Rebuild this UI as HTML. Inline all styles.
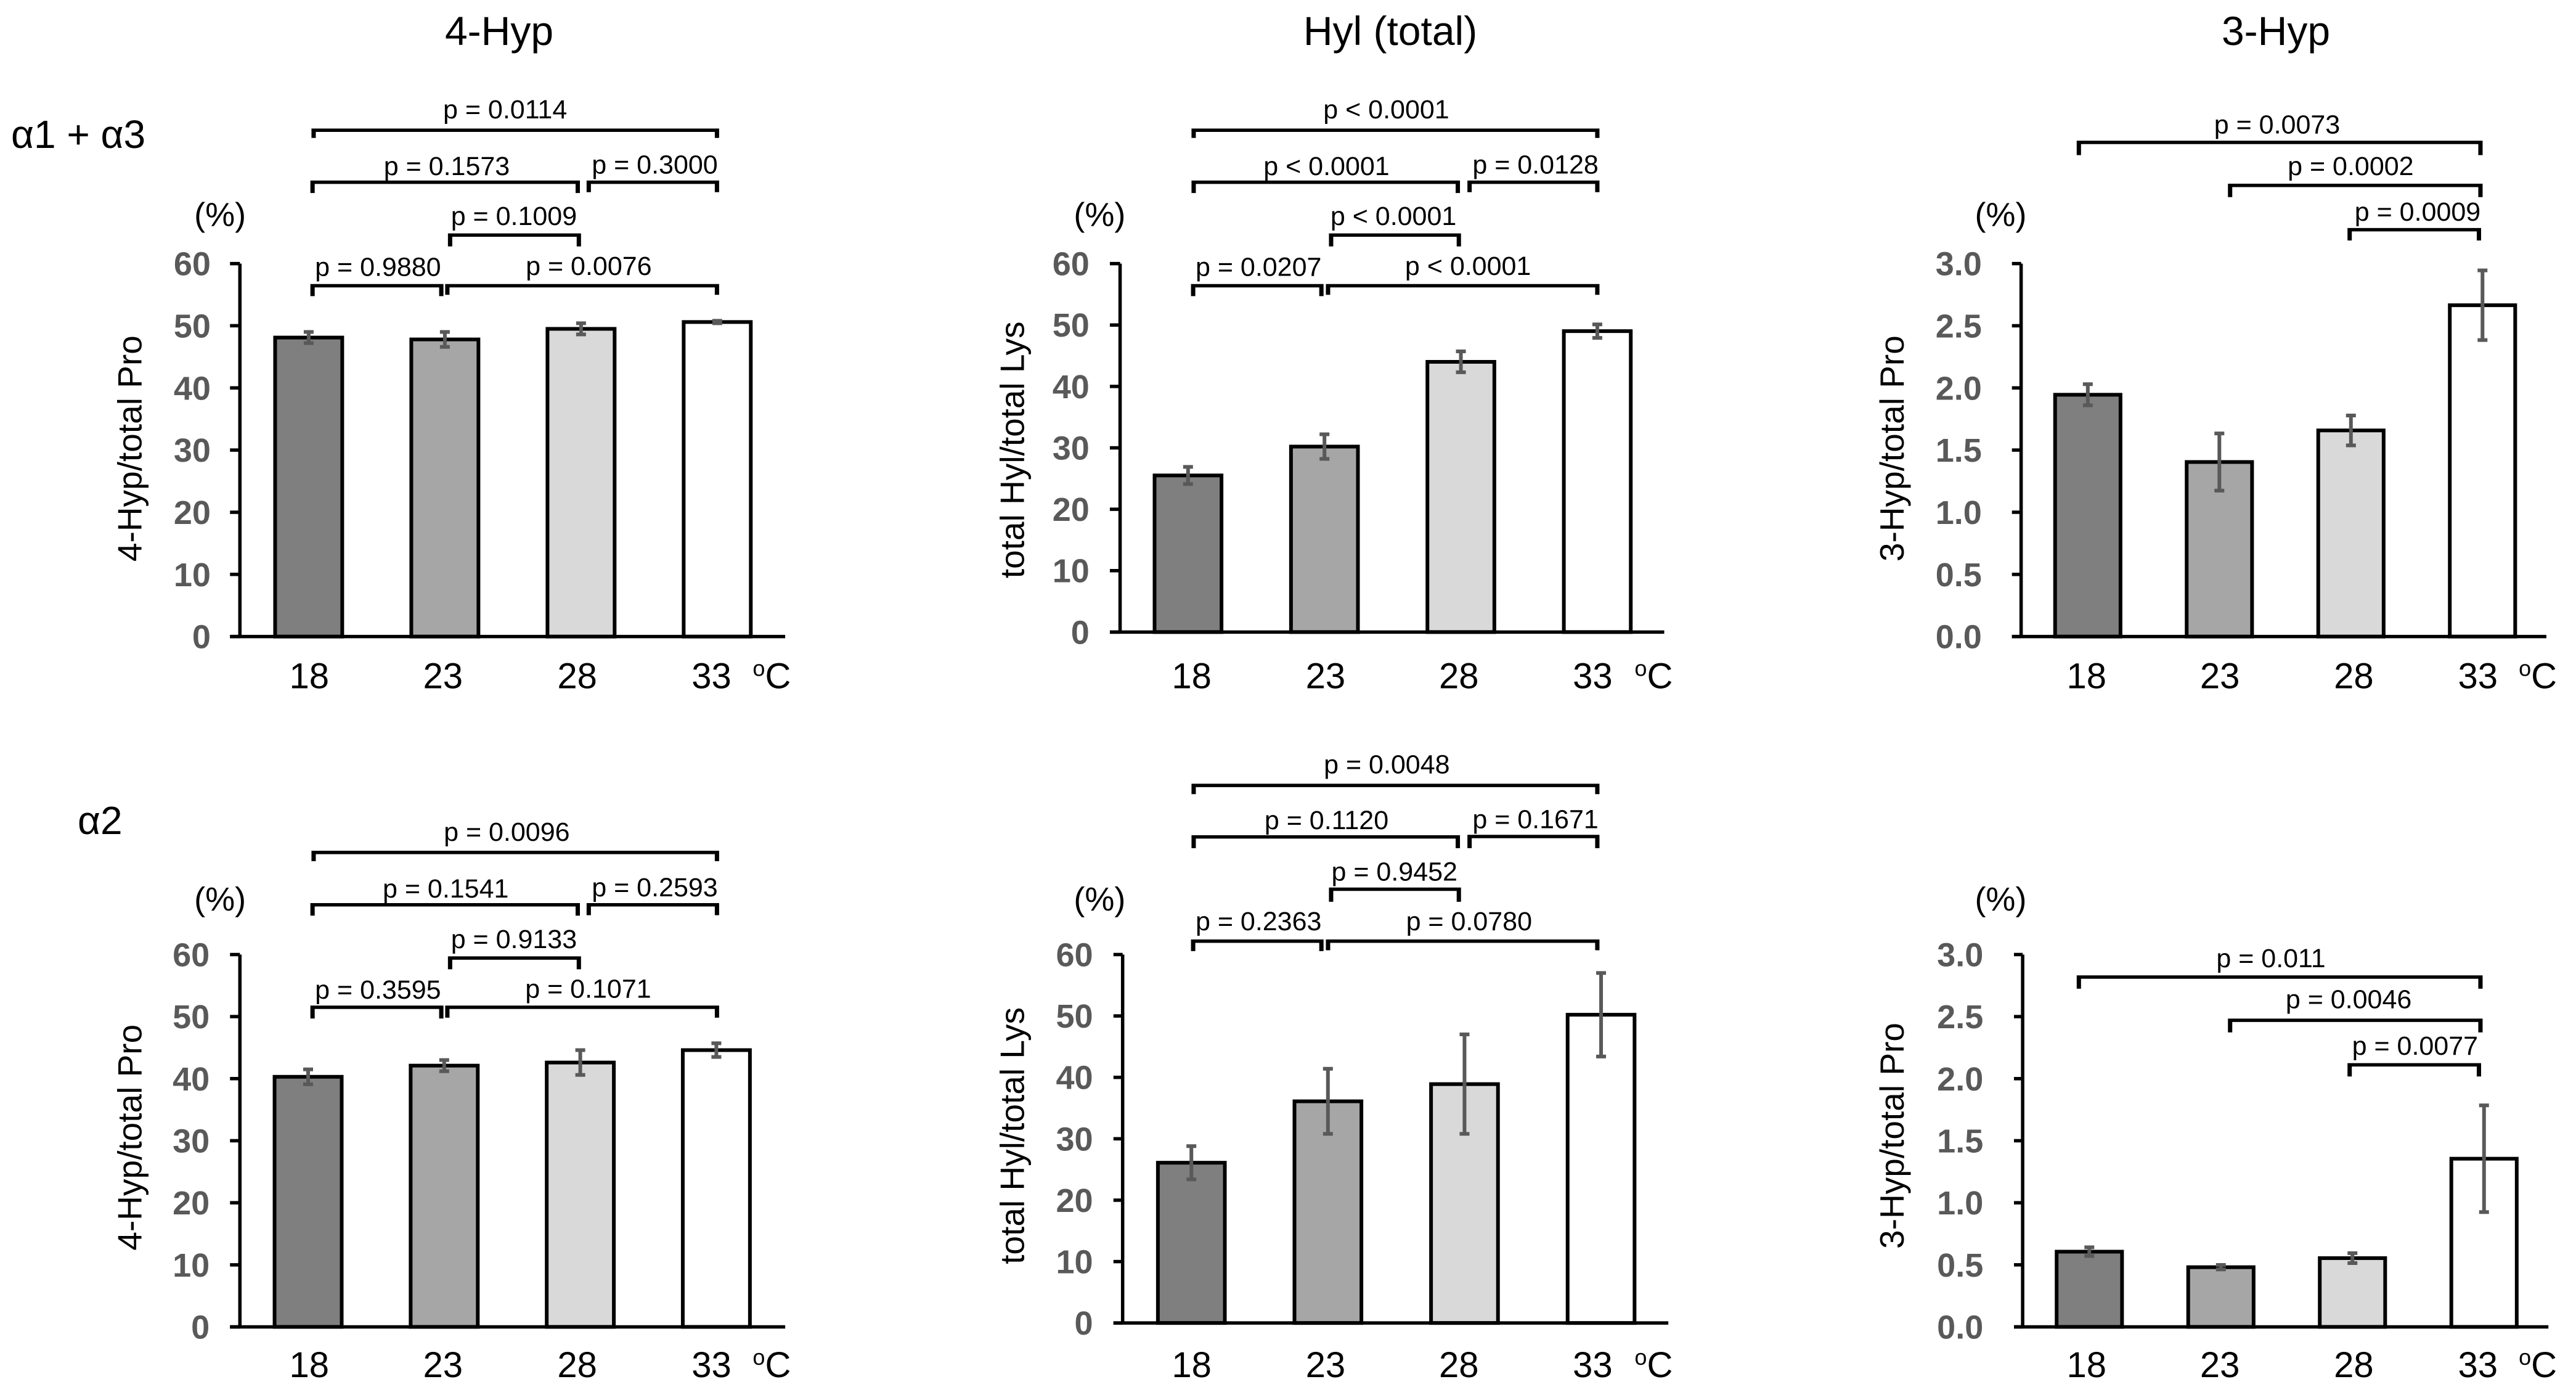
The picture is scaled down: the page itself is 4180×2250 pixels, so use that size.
<!DOCTYPE html>
<html lang="en">
<head>
<meta charset="utf-8">
<title>Hydroxylation by temperature</title>
<style>
html,body{margin:0;padding:0;background:#fff;width:4180px;height:2250px;overflow:hidden}
svg{display:block}
text{font-family:"Liberation Sans",sans-serif;fill:#000}
</style>
</head>
<body>
<svg id="fig" xmlns="http://www.w3.org/2000/svg" width="4180" height="2250" viewBox="0 0 4180 2250">
  <rect x="0" y="0" width="4180" height="2250" fill="#fff"/>
  <text x="810" y="73" font-size="66" text-anchor="middle">4-Hyp</text>
  <text x="2256" y="73" font-size="66" text-anchor="middle">Hyl (total)</text>
  <text x="3693" y="73" font-size="66" text-anchor="middle">3-Hyp</text>
  <text x="18" y="240" font-size="64">α1 + α3</text>
  <text x="126" y="1353" font-size="64">α2</text>
</svg>
<script>
// ---- data ----
const categories = ['18', '23', '28', '33'];
const percentTicks = ['0', '10', '20', '30', '40', '50', '60'];
const ratioTicks = ['0.0', '0.5', '1.0', '1.5', '2.0', '2.5', '3.0'];
const barColors = ['#7f7f7f', '#a6a6a6', '#d9d9d9', '#ffffff'];

const hyp4TopValues = [48.1, 47.8, 49.5, 50.6];
const hyp4TopErrors = [0.9, 1.2, 0.9, 0.2];
const hylTopValues = [25.5, 30.2, 44.0, 49.0];
const hylTopErrors = [1.4, 2.0, 1.7, 1.1];
const hyp3TopValues = [1.945, 1.404, 1.658, 2.665];
const hyp3TopErrors = [0.085, 0.23, 0.12, 0.28];

const hyp4BottomValues = [40.3, 42.1, 42.6, 44.6];
const hyp4BottomErrors = [1.2, 0.9, 2.0, 1.1];
const hylBottomValues = [26.1, 36.1, 38.9, 50.2];
const hylBottomErrors = [2.7, 5.3, 8.1, 6.8];
const hyp3BottomValues = [0.606, 0.481, 0.554, 1.355];
const hyp3BottomErrors = [0.035, 0.018, 0.04, 0.43];

// ---- layout (geometry in crop units, converted by ox/oy/sx/sy) ----
const SX_A = 1568 / 1400, SX_B = 1568 / 1300, SY_T = 1568 / 1150, SY_B = 1568 / 1100;
const panels = [
  {id: 'hyp4-top', values: hyp4TopValues, errors: hyp4TopErrors, ticks: percentTicks, ytitle: '4-Hyp/total Pro',
   ox: 0, oy: 0, sx: SX_A, sy: SY_T, axisX: 436, tickX: 418, right: 1427, yTop: 583, y0: 1408,
   first: 561, step: 247.5, barW: 122, labelX: [562, 805, 1049, 1293], unitX: 1368, labelY: 1522,
   tickRight: 383, titleX: 257, titleY: 992, pctX: 400, pctY: 500,
   brackets: [
     [570, 1303, 288, 305, 918, 262, 'p = 0.0114'],
     [568, 1050, 403, 427, 812, 387, 'p = 0.1573'],
     [1070, 1303, 403, 425, 1190, 384, 'p = 0.3000'],
     [818, 1052, 520, 545, 934, 498, 'p = 0.1009'],
     [568, 802, 632, 655, 687, 610, 'p = 0.9880'],
     [813, 1303, 632, 652, 1070, 608, 'p = 0.0076']
   ]},
  {id: 'hyl-top', values: hylTopValues, errors: hylTopErrors, ticks: percentTicks, ytitle: 'total Hyl/total Lys',
   ox: 1500, oy: 0, sx: SX_B, sy: SY_T, axisX: 383, tickX: 363, right: 1448, yTop: 583, y0: 1398,
   first: 516, step: 267, barW: 131, labelX: [523, 785, 1046, 1308], unitX: 1390, labelY: 1522,
   tickRight: 323, titleX: 195, titleY: 995, pctX: 343, pctY: 500,
   brackets: [
     [527, 1317, 288, 305, 904, 262, 'p < 0.0001'],
     [527, 1044, 403, 427, 787, 387, 'p < 0.0001'],
     [1067, 1317, 403, 425, 1196, 384, 'p = 0.0128'],
     [796, 1046, 520, 545, 918, 498, 'p < 0.0001'],
     [526, 777, 632, 655, 654, 610, 'p = 0.0207'],
     [790, 1317, 632, 652, 1064, 608, 'p < 0.0001']
   ]},
  {id: 'hyp3-top', values: hyp3TopValues, errors: hyp3TopErrors, ticks: ratioTicks, ytitle: '3-Hyp/total Pro',
   ox: 2880, oy: 0, sx: SX_B, sy: SY_T, axisX: 482, tickX: 464, right: 1510, yTop: 583, y0: 1408,
   first: 612.5, step: 257.5, barW: 128, labelX: [610, 871, 1133, 1376], unitX: 1456, labelY: 1522,
   tickRight: 405, titleX: 252, titleY: 992, pctX: 442, pctY: 500,
   brackets: [
     [595, 1381, 315, 343, 983, 295, 'p = 0.0073'],
     [891, 1381, 410, 436, 1127, 387, 'p = 0.0002'],
     [1125, 1378, 508, 532, 1258, 488, 'p = 0.0009']
   ]},
  {id: 'hyp4-bottom', values: hyp4BottomValues, errors: hyp4BottomErrors, ticks: percentTicks, ytitle: '4-Hyp/total Pro',
   ox: 0, oy: 1150, sx: SX_A, sy: SY_B, axisX: 436, tickX: 418, right: 1427, yTop: 568, y0: 1429,
   first: 560, step: 247.3, barW: 122, labelX: [562, 805, 1049, 1293], unitX: 1368, labelY: 1545,
   tickRight: 381, titleX: 257, titleY: 991, pctX: 400, pctY: 466,
   brackets: [
     [570, 1303, 332, 352, 921, 305, 'p = 0.0096'],
     [568, 1050, 453, 478, 810, 436, 'p = 0.1541'],
     [1070, 1303, 453, 477, 1190, 433, 'p = 0.2593'],
     [818, 1052, 576, 602, 934, 553, 'p = 0.9133'],
     [568, 802, 690, 716, 687, 670, 'p = 0.3595'],
     [813, 1303, 690, 714, 1069, 668, 'p = 0.1071']
   ]},
  {id: 'hyl-bottom', values: hylBottomValues, errors: hylBottomErrors, ticks: percentTicks, ytitle: 'total Hyl/total Lys',
   ox: 1500, oy: 1150, sx: SX_B, sy: SY_B, axisX: 388, tickX: 370, right: 1456, yTop: 568, y0: 1420,
   first: 522.5, step: 267.3, barW: 131, labelX: [523, 785, 1046, 1308], unitX: 1390, labelY: 1545,
   tickRight: 330, titleX: 195, titleY: 987, pctX: 343, pctY: 466,
   brackets: [
     [527, 1317, 177, 197, 905, 149, 'p = 0.0048'],
     [527, 1044, 296, 322, 787, 278, 'p = 0.1120'],
     [1067, 1317, 295, 322, 1196, 276, 'p = 0.1671'],
     [796, 1046, 417, 446, 920, 397, 'p = 0.9452'],
     [526, 777, 537, 560, 654, 512, 'p = 0.2363'],
     [790, 1317, 537, 558, 1066, 512, 'p = 0.0780']
   ]},
  {id: 'hyp3-bottom', values: hyp3BottomValues, errors: hyp3BottomErrors, ticks: ratioTicks, ytitle: '3-Hyp/total Pro',
   ox: 2880, oy: 1150, sx: SX_B, sy: SY_B, axisX: 485, tickX: 468, right: 1514, yTop: 568, y0: 1429,
   first: 615.5, step: 257.5, barW: 128, labelX: [610, 871, 1133, 1376], unitX: 1456, labelY: 1545,
   tickRight: 408, titleX: 252, titleY: 987, pctX: 442, pctY: 466,
   brackets: [
     [595, 1381, 620, 647, 971, 597, 'p = 0.011'],
     [891, 1381, 720, 748, 1123, 692, 'p = 0.0046'],
     [1125, 1378, 823, 850, 1253, 800, 'p = 0.0077']
   ]}
];

// ---- drawing ----
const NS = 'http://www.w3.org/2000/svg';
const fig = document.getElementById('fig');
function make(parent, tag, attrs, txt) {
  const n = document.createElementNS(NS, tag);
  for (const k in attrs) n.setAttribute(k, attrs[k]);
  if (txt !== undefined) n.textContent = txt;
  parent.appendChild(n);
  return n;
}

panels.forEach(function (p) {
  const px = function (c) { return p.ox + c / p.sx; };
  const py = function (c) { return p.oy + c / p.sy; };
  const yMax = parseFloat(p.ticks[p.ticks.length - 1]);
  const yScale = function (v) { return py(p.y0) - (v / yMax) * (py(p.y0) - py(p.yTop)); };
  const xScale = function (i) { return px(p.first + i * p.step); };
  const barPx = p.barW / p.sx;

  const g = make(fig, 'g', {});
  
  

  // bars
  categories.forEach(function (cat, i) {
    const top = yScale(p.values[i]);
    const bar = make(g, 'rect', {x: xScale(i) - barPx / 2, y: top, width: barPx, height: yScale(0) - top,
      fill: barColors[i], stroke: '#000', 'stroke-width': 6});
    
    
  });

  // axes
  const yAxis = make(g, 'line', {x1: px(p.axisX), x2: px(p.axisX), y1: yScale(yMax), y2: yScale(0), stroke: '#000', 'stroke-width': 5.5});
  
  
  const xAxis = make(g, 'line', {x1: px(p.tickX), x2: px(p.right), y1: yScale(0), y2: yScale(0), stroke: '#000', 'stroke-width': 5.5});
  
  

  // y ticks
  p.ticks.forEach(function (t) {
    const y = yScale(parseFloat(t));
    const mark = make(g, 'line', {x1: px(p.tickX), x2: px(p.axisX), y1: y, y2: y, stroke: '#000', 'stroke-width': 5.5});
    
    
    const label = make(g, 'text', {x: px(p.tickRight), y: y + 19, 'font-size': 54, 'font-weight': 'bold', 'text-anchor': 'end', style: 'fill:#595959'}, t);
    
    
  });

  // error bars
  categories.forEach(function (cat, i) {
    const x = xScale(i);
    const hi = yScale(p.values[i] + p.errors[i]);
    const lo = yScale(p.values[i] - p.errors[i]);
    const err = make(g, 'path', {d: 'M' + (x - 8) + ' ' + hi + 'H' + (x + 8) + 'M' + x + ' ' + hi + 'V' + lo + 'M' + (x - 8) + ' ' + lo + 'H' + (x + 8),
      fill: 'none', stroke: '#595959', 'stroke-width': 6});
    
    
  });

  // x labels
  categories.forEach(function (cat, i) {
    const label = make(g, 'text', {x: px(p.labelX[i]), y: py(p.labelY), 'font-size': 58, 'text-anchor': 'middle'}, cat);
    
    
  });
  const unit = make(g, 'text', {x: px(p.unitX), y: py(p.labelY), 'font-size': 58});
  
  
  make(unit, 'tspan', {'font-size': 36, dy: -20}, 'o');
  make(unit, 'tspan', {dy: 20}, 'C');

  // y title
  const tx = px(p.titleX), ty = py(p.titleY);
  const title = make(g, 'text', {x: tx, y: ty, 'font-size': 55, 'text-anchor': 'middle', transform: 'rotate(-90 ' + tx + ' ' + ty + ')'}, p.ytitle);
  
  

  // unit "(%)"
  const pct = make(g, 'text', {x: px(p.pctX), y: py(p.pctY), 'font-size': 54, 'text-anchor': 'middle'}, '(%)');
  
  

  // significance brackets: horizontal bar 5.5 px thick, end ticks 7 px wide
  p.brackets.forEach(function (b) {
    const xa = px(b[0]), xb = px(b[1]), yb = py(b[2]), yd = py(b[3]);
    const d = 'M' + (xa - 3.5) + ' ' + yd + 'V' + (yb - 2.75) + 'H' + (xb + 3.5) + 'V' + yd + 'H' + (xb - 3.5) +
      'V' + (yb + 2.75) + 'H' + (xa + 3.5) + 'V' + yd + 'Z';
    const path = make(g, 'path', {d: d, fill: '#000'});
    
    
    const label = make(g, 'text', {x: px(b[4]), y: py(b[5]), 'font-size': 43, 'text-anchor': 'middle'}, b[6]);
    
    
  });
});
</script>
</body>
</html>
